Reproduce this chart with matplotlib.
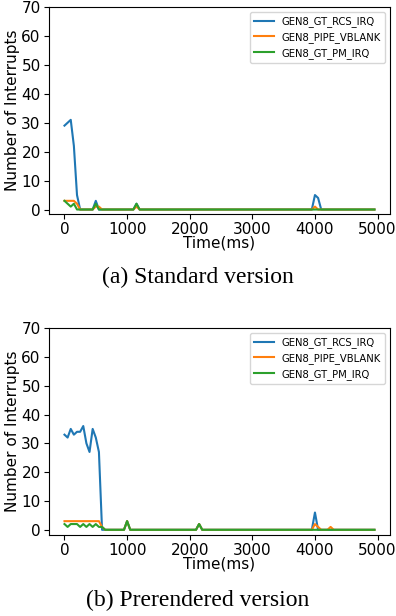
import matplotlib.pyplot as plt

plt.rcParams['font.family'] = ['DejaVu Sans']

# interrupt counts per 50 ms window, only the points where the line bends

labels = ['GEN8_GT_RCS_IRQ', 'GEN8_PIPE_VBLANK', 'GEN8_GT_PM_IRQ']
captions = ['(a) Standard version', '(b) Prerendered version']

# standard version
std_rcs_t = [0, 50, 100, 150, 200, 250, 450, 500, 550, 1100, 1150, 1200, 3950, 4000, 4050, 4100, 4950]
std_rcs_v = [29, 30, 31, 22, 5, 0, 0, 3, 0, 0, 2, 0, 0, 5, 4, 0, 0]
std_vbl_t = [0, 50, 100, 150, 200, 250, 450, 500, 550, 600, 1100, 1150, 1200, 3950, 4000, 4050, 4950]
std_vbl_v = [3, 3, 3, 3, 2, 0, 0, 1, 1, 0, 0, 1, 0, 0, 1, 0, 0]
std_pm_t = [0, 50, 100, 150, 200, 450, 500, 550, 1100, 1150, 1200, 4950]
std_pm_v = [3, 2, 1, 2, 0, 0, 2, 0, 0, 2, 0, 0]

# prerendered version
pre_rcs_t = [0, 50, 100, 150, 200, 250, 300, 350, 400, 450, 500, 550, 600, 950, 1000, 1050,
             2100, 2150, 2200, 3950, 4000, 4050, 4950]
pre_rcs_v = [33, 32, 35, 33, 34, 34, 36, 30, 27, 35, 32, 27, 0, 0, 3, 0,
             0, 2, 0, 0, 6, 0, 0]
pre_vbl_t = [0, 550, 600, 650, 950, 1000, 1050, 2100, 2150, 2200, 3950, 4000, 4050, 4100,
             4200, 4250, 4300, 4950]
pre_vbl_v = [3, 3, 1, 0, 0, 3, 0, 0, 2, 0, 0, 2, 1, 0,
             0, 1, 0, 0]
pre_pm_t = [0, 50, 100, 150, 200, 250, 300, 350, 400, 450, 500, 550, 600, 650, 950, 1000, 1050,
            2100, 2150, 2200, 4950]
pre_pm_v = [2, 1, 2, 2, 2, 1, 2, 1, 2, 1, 2, 1, 1, 0, 0, 3, 0,
            0, 2, 0, 0]

panels = [
    [(std_rcs_t, std_rcs_v), (std_vbl_t, std_vbl_v), (std_pm_t, std_pm_v)],
    [(pre_rcs_t, pre_rcs_v), (pre_vbl_t, pre_vbl_v), (pre_pm_t, pre_pm_v)],
]

fig = plt.figure(figsize=(3.96, 6.16), dpi=100)
ax_pos = [[0.1237, 0.6526, 0.861, 0.336], [0.1237, 0.1315, 0.861, 0.336]]
cap_y = [0.549, 0.026]

for i in range(2):
    ax = fig.add_axes(ax_pos[i])
    for (t, v), lab in zip(panels[i], labels):
        ax.plot(t, v, label=lab, linewidth=1.5)
    ax.set_ylim(top=70)
    ax.set_yticks(range(0, 71, 10))
    ax.set_xticks(range(0, 5001, 1000))
    ax.tick_params(labelsize=11, pad=2.5)
    ax.set_xlabel('Time(ms)', fontsize=11, labelpad=-1)
    ax.set_ylabel('Number of Interrupts', fontsize=11, labelpad=1)
    ax.legend(loc='upper right', fontsize=7.2)
    fig.text(0.5, cap_y[i], captions[i], ha='center', va='center',
             family='Liberation Serif', fontsize=17)

plt.savefig('out.png', dpi=100)
